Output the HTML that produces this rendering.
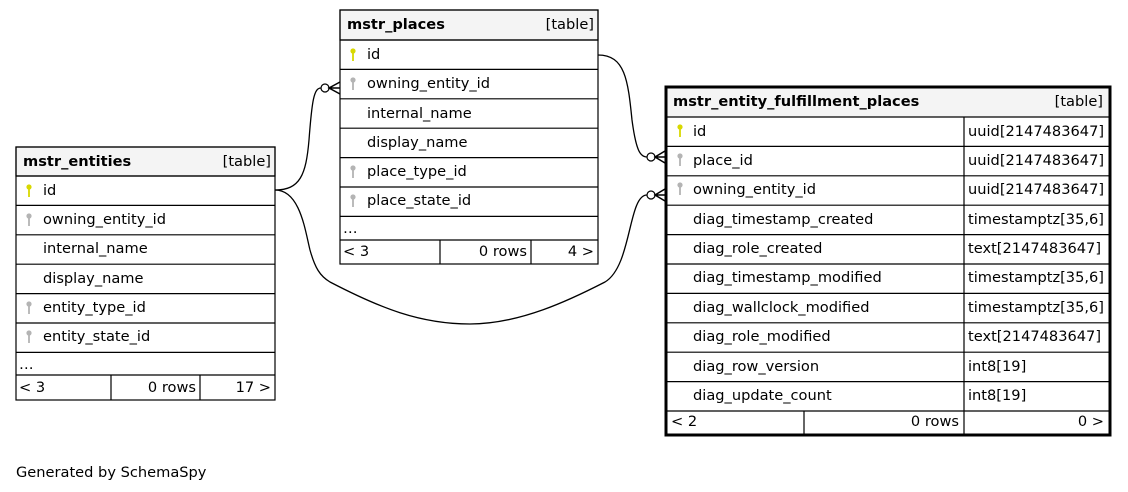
<!DOCTYPE html>
<html><head><meta charset="utf-8"><style>
html,body{margin:0;padding:0;background:#fff;}
svg{display:block;font-family:"DejaVu Sans","Liberation Sans",sans-serif;font-size:14.6px;}
.b{font-weight:bold;}
</style></head><body>
<svg width="1128" height="492" viewBox="0 0 1128 492" xmlns="http://www.w3.org/2000/svg">
<defs>
<g id="pk"><circle cx="0" cy="-4" r="2.6" fill="#d8d800"/><rect x="-0.9" y="-3" width="1.8" height="9" fill="#d8d800"/></g>
<g id="fk"><circle cx="0" cy="-4" r="2.6" fill="#b4b4b4"/><rect x="-0.9" y="-3" width="1.8" height="9" fill="#b4b4b4"/></g>
</defs>
<g fill="none" stroke="#000" stroke-width="1.2">
<rect x="16" y="147" width="259" height="29" fill="#f4f4f4"/>
<rect x="16" y="147" width="259" height="253"/>
<line x1="16" y1="176" x2="275" y2="176"/>
<line x1="16" y1="205.4" x2="275" y2="205.4"/>
<line x1="16" y1="234.8" x2="275" y2="234.8"/>
<line x1="16" y1="264.2" x2="275" y2="264.2"/>
<line x1="16" y1="293.6" x2="275" y2="293.6"/>
<line x1="16" y1="323" x2="275" y2="323"/>
<line x1="16" y1="352.4" x2="275" y2="352.4"/>
<line x1="16" y1="375" x2="275" y2="375"/>
<line x1="111" y1="375" x2="111" y2="400"/>
<line x1="200" y1="375" x2="200" y2="400"/>
<rect x="340" y="10" width="258" height="30" fill="#f4f4f4"/>
<rect x="340" y="10" width="258" height="254"/>
<line x1="340" y1="40" x2="598" y2="40"/>
<line x1="340" y1="69.4" x2="598" y2="69.4"/>
<line x1="340" y1="98.8" x2="598" y2="98.8"/>
<line x1="340" y1="128.2" x2="598" y2="128.2"/>
<line x1="340" y1="157.6" x2="598" y2="157.6"/>
<line x1="340" y1="187" x2="598" y2="187"/>
<line x1="340" y1="216.4" x2="598" y2="216.4"/>
<line x1="340" y1="240" x2="598" y2="240"/>
<line x1="440" y1="240" x2="440" y2="264"/>
<line x1="531" y1="240" x2="531" y2="264"/>
<rect x="666" y="88" width="443" height="29" fill="#f4f4f4" stroke="none"/>
<rect x="666" y="87" width="444" height="348" stroke-width="3"/>
<line x1="666" y1="117" x2="1110" y2="117"/>
<line x1="666" y1="146.4" x2="1110" y2="146.4"/>
<line x1="666" y1="175.8" x2="1110" y2="175.8"/>
<line x1="666" y1="205.2" x2="1110" y2="205.2"/>
<line x1="666" y1="234.6" x2="1110" y2="234.6"/>
<line x1="666" y1="264" x2="1110" y2="264"/>
<line x1="666" y1="293.4" x2="1110" y2="293.4"/>
<line x1="666" y1="322.8" x2="1110" y2="322.8"/>
<line x1="666" y1="352.2" x2="1110" y2="352.2"/>
<line x1="666" y1="381.6" x2="1110" y2="381.6"/>
<line x1="666" y1="411" x2="1110" y2="411"/>
<line x1="964" y1="117" x2="964" y2="435"/>
<line x1="804" y1="411" x2="804" y2="435"/>
<path d="M275,190 C300,190 306,175 309,140 C312,100 314,88 321,88" stroke-width="1.3"/>
<path d="M598,55 C625,55 628,80 632,120 C636,150 640,157 647,157" stroke-width="1.3"/>
<path d="M275,190 C300,190 305,230 310,250 C315,268 320,276 330,282 C380,308 420,324 470,324 C520,324 570,300 605,282 C632,266 628,195 647,195" stroke-width="1.3"/>
<circle cx="325" cy="88" r="4" fill="#fff"/>
<circle cx="651" cy="157" r="4" fill="#fff"/>
<circle cx="651" cy="195" r="4" fill="#fff"/>
<path d="M340,82 L329,88 L340,94 M329,88 L340,88" stroke-width="1.5"/>
<path d="M665,151 L655,157 L665,163 M655,157 L665,157" stroke-width="1.5"/>
<path d="M665,189 L655,195 L665,201 M655,195 L665,195" stroke-width="1.5"/>
</g>
<g fill="#000">
<text x="23" y="166" class="b">mstr_entities</text><text x="271" y="166" text-anchor="end">[table]</text>
<use href="#pk" x="29" y="191"/><text x="43" y="195">id</text>
<use href="#fk" x="29" y="220"/><text x="43" y="224">owning_entity_id</text>
<text x="43" y="253">internal_name</text>
<text x="43" y="283">display_name</text>
<use href="#fk" x="29" y="308"/><text x="43" y="312">entity_type_id</text>
<use href="#fk" x="29" y="337"/><text x="43" y="341">entity_state_id</text>
<text x="19" y="369">…</text>
<text x="19" y="392">&lt; 3</text><text x="196" y="392" text-anchor="end">0 rows</text><text x="271" y="392" text-anchor="end">17 &gt;</text>

<text x="347" y="29" class="b">mstr_places</text><text x="594" y="29" text-anchor="end">[table]</text>
<use href="#pk" x="353" y="55"/><text x="367" y="59">id</text>
<use href="#fk" x="353" y="84"/><text x="367" y="88">owning_entity_id</text>
<text x="367" y="118">internal_name</text>
<text x="367" y="147">display_name</text>
<use href="#fk" x="353" y="172"/><text x="367" y="176">place_type_id</text>
<use href="#fk" x="353" y="201"/><text x="367" y="205">place_state_id</text>
<text x="343" y="233">…</text>
<text x="343" y="256">&lt; 3</text><text x="527" y="256" text-anchor="end">0 rows</text><text x="594" y="256" text-anchor="end">4 &gt;</text>

<text x="673" y="106" class="b">mstr_entity_fulfillment_places</text><text x="1103" y="106" text-anchor="end">[table]</text>
<use href="#pk" x="680" y="131"/><text x="693" y="136">id</text><text x="968" y="136">uuid[2147483647]</text>
<use href="#fk" x="680" y="160"/><text x="693" y="165">place_id</text><text x="968" y="165">uuid[2147483647]</text>
<use href="#fk" x="680" y="189"/><text x="693" y="194">owning_entity_id</text><text x="968" y="194">uuid[2147483647]</text>
<text x="693" y="224">diag_timestamp_created</text><text x="968" y="224">timestamptz[35,6]</text>
<text x="693" y="253">diag_role_created</text><text x="968" y="253">text[2147483647]</text>
<text x="693" y="282">diag_timestamp_modified</text><text x="968" y="282">timestamptz[35,6]</text>
<text x="693" y="312">diag_wallclock_modified</text><text x="968" y="312">timestamptz[35,6]</text>
<text x="693" y="341">diag_role_modified</text><text x="968" y="341">text[2147483647]</text>
<text x="693" y="371">diag_row_version</text><text x="968" y="371">int8[19]</text>
<text x="693" y="400">diag_update_count</text><text x="968" y="400">int8[19]</text>
<text x="671" y="426">&lt; 2</text><text x="959" y="426" text-anchor="end">0 rows</text><text x="1104" y="426" text-anchor="end">0 &gt;</text>

<text x="16" y="477">Generated by SchemaSpy</text>
</g>
</svg>
</body></html>
